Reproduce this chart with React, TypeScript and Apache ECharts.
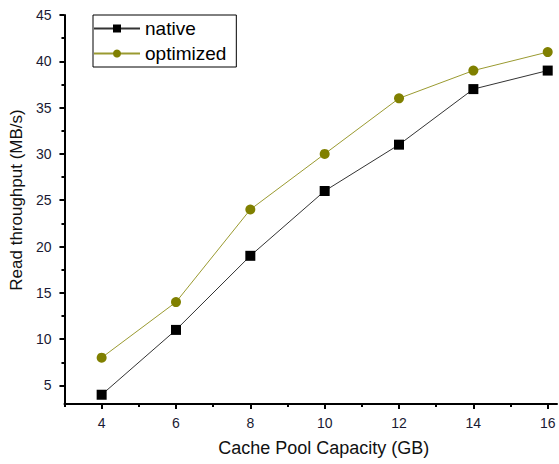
import React, { useEffect, useRef } from "react";
import * as echarts from "echarts";

const capacities = [4, 6, 8, 10, 12, 14, 16];
const nativeValues = [4, 11, 19, 26, 31, 37, 39];
const optimizedValues = [8, 14, 24, 30, 36, 39, 41];
const xMajorTicks = [4, 6, 8, 10, 12, 14, 16];
const xMinorTicks = [3, 5, 7, 9, 11, 13, 15];
const yMajorTicks = [5, 10, 15, 20, 25, 30, 35, 40, 45];
const yMinorTicks = [7.5, 12.5, 17.5, 22.5, 27.5, 32.5, 37.5, 42.5];

const FONT = "Liberation Sans, Arial, sans-serif";

export default function App() {
  const ref = useRef<HTMLDivElement>(null);
  useEffect(() => {
    if (!ref.current) return;
    const chart = echarts.init(ref.current, undefined, { renderer: "svg" });
    const axisLine = { show: true, lineStyle: { color: "#000", width: 2 } };
    chart.setOption({
      animation: false,
      backgroundColor: "#fff",
      grid: { left: 62, right: 2, top: 15, bottom: 60, containLabel: false },
      legend: {
        orient: "vertical",
        left: 93,
        top: 15,
        padding: [4, 10, 4, 0],
        itemGap: 6,
        itemWidth: 46,
        itemHeight: 10,
        borderColor: "#000",
        borderWidth: 1,
        textStyle: { fontFamily: FONT, fontSize: 19, color: "#000" },
        data: ["native", "optimized"],
      },
      xAxis: [
        {
          type: "value",
          min: 3,
          max: 16.25,
          position: "bottom",
          name: "Cache Pool Capacity (GB)",
          nameLocation: "middle",
          nameGap: 35,
          nameTextStyle: { fontFamily: FONT, fontSize: 18, color: "#111", padding: [0, 0, 0, 26] },
          axisLine,
          splitLine: { show: false },
          axisTick: { show: true, inside: false, length: 5, customValues: xMajorTicks, lineStyle: { color: "#000", width: 2 } },
          axisLabel: { show: true, margin: 12, customValues: xMajorTicks, fontFamily: FONT, fontSize: 14, color: "#1a1a33" },
        },
        {
          type: "value",
          min: 3,
          max: 16.25,
          position: "bottom",
          offset: 0,
          axisLine: { show: false },
          splitLine: { show: false },
          axisTick: { show: true, inside: false, length: 3, customValues: xMinorTicks, lineStyle: { color: "#000", width: 2 } },
          axisLabel: { show: false },
        },
      ],
      yAxis: [
        {
          type: "value",
          min: 3,
          max: 45,
          position: "left",
          name: "Read throughput (MB/s)",
          nameLocation: "middle",
          nameGap: 35,
          nameTextStyle: { fontFamily: FONT, fontSize: 17, color: "#111", padding: [0, 0, 0, 19] },
          axisLine,
          splitLine: { show: false },
          axisTick: { show: true, inside: false, length: 5, customValues: yMajorTicks, lineStyle: { color: "#000", width: 2 } },
          axisLabel: { show: true, margin: 13, customValues: yMajorTicks, fontFamily: FONT, fontSize: 14, color: "#1a1a33" },
        },
        {
          type: "value",
          min: 3,
          max: 45,
          position: "left",
          offset: 0,
          axisLine: { show: false },
          splitLine: { show: false },
          axisTick: { show: true, inside: false, length: 3, customValues: yMinorTicks, lineStyle: { color: "#000", width: 2 } },
          axisLabel: { show: false },
        },
      ],
      series: [
        {
          name: "native",
          type: "line",
          xAxisIndex: 0,
          yAxisIndex: 0,
          data: capacities.map((c, i) => [c, nativeValues[i]]),
          symbol: "rect",
          symbolSize: 10,
          itemStyle: { color: "#000" },
          lineStyle: { color: "#333", width: 1 },
          z: 3,
        },
        {
          name: "optimized",
          type: "line",
          xAxisIndex: 0,
          yAxisIndex: 0,
          data: capacities.map((c, i) => [c, optimizedValues[i]]),
          symbol: "circle",
          symbolSize: 10,
          itemStyle: { color: "#808000" },
          lineStyle: { color: "#9a9a30", width: 1 },
          z: 2,
        },
      ],
    });
    return () => chart.dispose();
  }, []);
  return (
    <div
      ref={ref}
      style={{ position: "fixed", left: 0, top: 0, width: 559, height: 464 }}
    />
  );
}
